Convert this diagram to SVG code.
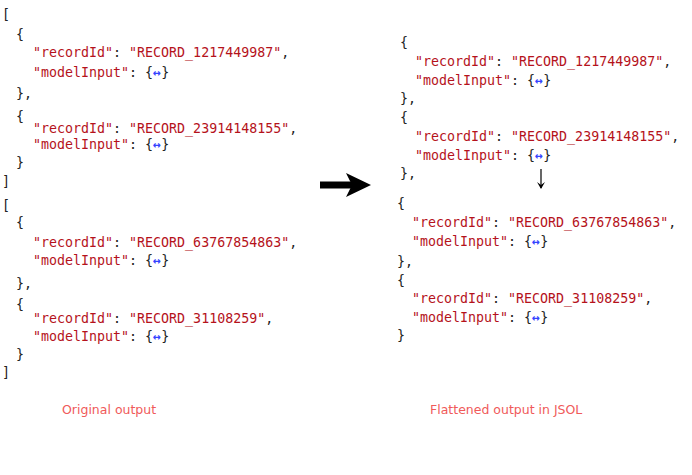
<svg xmlns="http://www.w3.org/2000/svg" width="692" height="475" viewBox="0 0 692 475">
<style>
text{font-family:"DejaVu Sans Mono",monospace;font-size:13.3px;fill:#222}
.s{fill:#b5121b}
.e{fill:#3344ff;font-weight:bold}
.lab{font-family:"DejaVu Sans","Liberation Sans",sans-serif;font-size:12.5px;fill:#f05a5a}
</style>
<defs>
<marker id="ah" markerWidth="8" markerHeight="8" refX="6" refY="4" orient="auto" markerUnits="userSpaceOnUse"><path d="M0,0 L7,4 L0,8 L3,4 Z" fill="#000"/></marker>
</defs>
<g id="original">
<text x="2" y="19">[</text>
<text x="16" y="39">{</text>
<text x="33" y="57"><tspan class="s">"recordId"</tspan>: <tspan class="s">"RECORD_1217449987"</tspan>,</text>
<text x="33" y="77"><tspan class="s">"modelInput"</tspan>: {<tspan class="e">↔</tspan>}</text>
<text x="16" y="98">},</text>
<text x="16" y="121">{</text>
<text x="33" y="133"><tspan class="s">"recordId"</tspan>: <tspan class="s">"RECORD_23914148155"</tspan>,</text>
<text x="33" y="149"><tspan class="s">"modelInput"</tspan>: {<tspan class="e">↔</tspan>}</text>
<text x="16" y="167">}</text>
<text x="2" y="186">]</text>
<text x="2" y="210">[</text>
<text x="16" y="227">{</text>
<text x="33" y="247"><tspan class="s">"recordId"</tspan>: <tspan class="s">"RECORD_63767854863"</tspan>,</text>
<text x="33" y="265"><tspan class="s">"modelInput"</tspan>: {<tspan class="e">↔</tspan>}</text>
<text x="16" y="288">},</text>
<text x="16" y="309">{</text>
<text x="33" y="323"><tspan class="s">"recordId"</tspan>: <tspan class="s">"RECORD_31108259"</tspan>,</text>
<text x="33" y="341"><tspan class="s">"modelInput"</tspan>: {<tspan class="e">↔</tspan>}</text>
<text x="16" y="359">}</text>
<text x="2" y="377">]</text>
</g>
<g id="flattened">
<text x="400" y="47">{</text>
<text x="415" y="66"><tspan class="s">"recordId"</tspan>: <tspan class="s">"RECORD_1217449987"</tspan>,</text>
<text x="415" y="85"><tspan class="s">"modelInput"</tspan>: {<tspan class="e">↔</tspan>}</text>
<text x="400" y="103">},</text>
<text x="400" y="122">{</text>
<text x="415" y="141"><tspan class="s">"recordId"</tspan>: <tspan class="s">"RECORD_23914148155"</tspan>,</text>
<text x="415" y="160"><tspan class="s">"modelInput"</tspan>: {<tspan class="e">↔</tspan>}</text>
<text x="400" y="178">},</text>
<text x="397" y="208">{</text>
<text x="412" y="227"><tspan class="s">"recordId"</tspan>: <tspan class="s">"RECORD_63767854863"</tspan>,</text>
<text x="412" y="246"><tspan class="s">"modelInput"</tspan>: {<tspan class="e">↔</tspan>}</text>
<text x="397" y="266">},</text>
<text x="397" y="285">{</text>
<text x="412" y="303"><tspan class="s">"recordId"</tspan>: <tspan class="s">"RECORD_31108259"</tspan>,</text>
<text x="412" y="322"><tspan class="s">"modelInput"</tspan>: {<tspan class="e">↔</tspan>}</text>
<text x="397" y="340">}</text>
</g>
<g id="connectors">
<path d="M320,185 L352,185" stroke="#000" stroke-width="7"/>
<path d="M346,173 L371,185 L346,197 L352,185 Z" fill="#000"/>
<line x1="541" y1="169" x2="541" y2="188" stroke="#000" stroke-width="1.2" marker-end="url(#ah)"/>
</g>
<g id="labels">
<text class="lab" x="62" y="414">Original output</text>
<text class="lab" x="430" y="414">Flattened output in JSOL</text>
</g>
</svg>
